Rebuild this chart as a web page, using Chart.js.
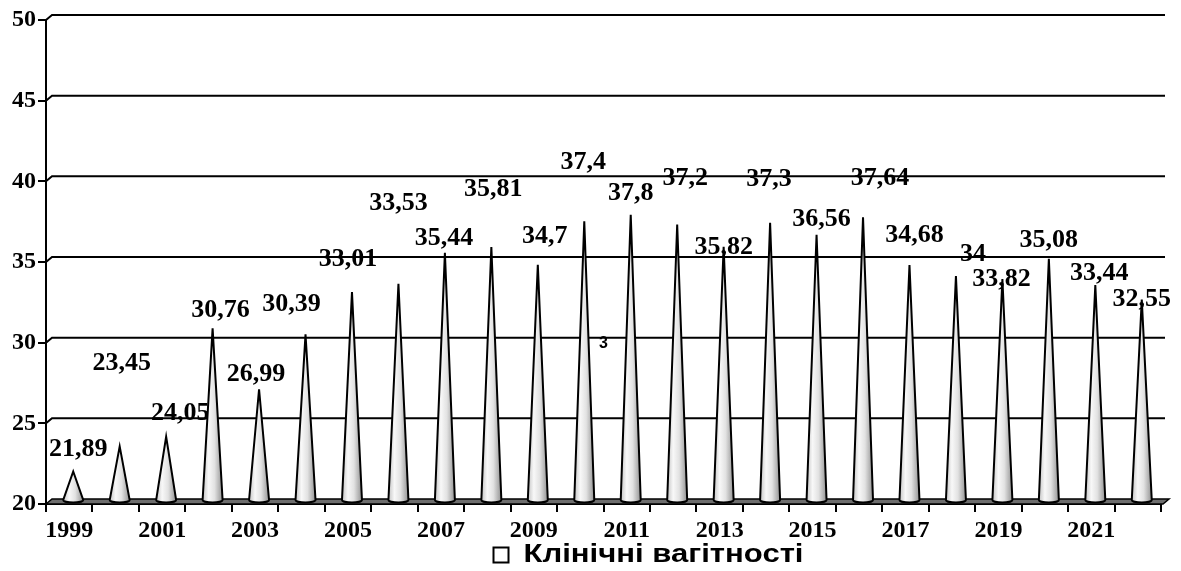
<!DOCTYPE html>
<html>
<head>
<meta charset="utf-8">
<script src="https://cdn.jsdelivr.net/npm/chart.js@4"></script>
<style>
html,body{margin:0;padding:0;background:#fff;}
#wrap{width:1181px;height:571px;}
</style>
</head>
<body>
<div id="wrap"><canvas id="coneChart" width="1181" height="571"></canvas></div>
<script>
const years = ["1999","2000","2001","2002","2003","2004","2005","2006","2007","2008","2009","2010",
"2011","2012","2013","2014","2015","2016","2017","2018","2019","2020","2021","2022"];

const pregnancies = [21.89, 23.45, 24.05, 30.76, 26.99, 30.39, 33.01, 33.53, 35.44, 35.81, 34.7, 37.4,
37.8, 37.2, 35.82, 37.3, 36.56, 37.64, 34.68, 34, 33.82, 35.08, 33.44, 32.55];

const seriesName = "Клінічні вагітності";

/* label nudges (px) from the cone tip, as placed in the original */
const labelDx = [9, 6, 18, 12, 1, -10, 0, 4, 3, 6, 11, 3, 4, 12, 4, 3, 9, 21, 9, 21, 3, 4, 8, 4];
const labelDy = [-24, -85, -25, -20, -17, -32, -35, -82, -17, -60, -31, -61, -24, -48, -1, -46, -18, -41, -32, -24, -2, -20, -14, -2];

const serif = "'Liberation Serif','Times New Roman',serif";
const sans = "'Liberation Sans',Arial,sans-serif";

const ctx = document.getElementById("coneChart").getContext("2d");

/* back wall gridlines + floor, shifted like a 3D chart */
const wallPlugin = {
id:"wall3d",
beforeDatasetsDraw(chart){
const c = chart.ctx;
const y = chart.scales.y;
const area = chart.chartArea;
const dx = 6, dy = -5;
c.save();
c.strokeStyle = "#000";
c.lineWidth = 2;
y.ticks.forEach(t => {
if(t.value <= y.min) return;
const py = y.getPixelForValue(t.value);
c.beginPath();
c.moveTo(area.left, py);
c.lineTo(area.left + dx, py + dy);
c.lineTo(area.right + 4, py + dy);
c.stroke();
});
/* floor */
const fy = y.getPixelForValue(y.min);
c.beginPath();
c.moveTo(area.left, fy);
c.lineTo(area.left + dx, fy + dy);
c.lineTo(area.right + 8, fy + dy);
c.lineTo(area.right + 2, fy);
c.closePath();
c.fillStyle = "#6e6e6e";
c.fill();
c.lineWidth = 1.5;
c.stroke();
c.restore();
}
};

/* cones drawn on the bar elements */
const conePlugin = {
id:"cones",
afterDatasetsDraw(chart){
const c = chart.ctx;
const meta = chart.getDatasetMeta(0);
c.save();
meta.data.forEach((bar, i) => {
const x = bar.x + 4;
const top = bar.y - 2;
const base = bar.base - 3;
const hw = bar.width / 2;
const g = c.createLinearGradient(x - hw, 0, x + hw, 0);
g.addColorStop(0, "#c4c4c4");
g.addColorStop(0.3, "#f8f8f8");
g.addColorStop(0.6, "#e2e2e2");
g.addColorStop(1, "#929292");
c.beginPath();
c.moveTo(x, top);
c.lineTo(x + hw, base);
c.ellipse(x, base, hw, 2.5, 0, 0, Math.PI, false);
c.closePath();
c.fillStyle = g;
c.fill();
c.strokeStyle = "#000";
c.lineWidth = 2;
c.stroke();

/* value label */
c.fillStyle = "#000";
c.font = "bold 26px " + serif;
c.textAlign = "center";
c.textBaseline = "middle";
const txt = String(pregnancies[i]).replace(".", ",");
c.fillText(txt, bar.x + labelDx[i], bar.y + labelDy[i]);
});

/* stray "3" left in the original picture */
const xs = chart.scales.x;
const mx = (xs.getPixelForValue(11) + xs.getPixelForValue(12)) / 2;
c.font = "bold 16px " + sans;
c.textAlign = "center";
c.textBaseline = "middle";
c.fillText("3", mx, chart.scales.y.getPixelForValue(30) + 1);
c.restore();
}
};

/* legend under the axis: square + wide bold caption */
const legendPlugin = {
id:"wideLegend",
afterDraw(chart){
const c = chart.ctx;
const area = chart.chartArea;
c.save();
c.font = "bold 26px " + sans;
const tw = c.measureText(seriesName).width;
const stretch = 280 / tw;
const total = 15 + 15 + 280;
const left = (area.left + area.right) / 2 + 45 - total / 2;
const cy = 555;
c.fillStyle = "#fff";
c.strokeStyle = "#000";
c.lineWidth = 2;
c.fillRect(left, cy - 7.5, 15, 15);
c.strokeRect(left, cy - 7.5, 15, 15);
c.translate(left + 30, cy);
c.scale(stretch, 1);
c.fillStyle = "#000";
c.textAlign = "left";
c.textBaseline = "middle";
c.fillText(seriesName, 0, 0);
c.restore();
}
};

const chart = new Chart(ctx,{

type:"bar",

data:{
labels:years,
datasets:[{
label:seriesName,
data:pregnancies,
base:20,
backgroundColor:"rgba(0,0,0,0)",
borderWidth:0,
categoryPercentage:1,
barPercentage:0.43
}]
},

options:{
responsive:false,
animation:false,
layout:{padding:{top:20, right:20, left:0, bottom:0}},
plugins:{
tooltip:{enabled:false},
legend:{display:false}
},
scales:{
x:{
afterFit(scale){ scale.height = 67; },
grid:{offset:true, drawOnChartArea:false, color:"#000", lineWidth:2, tickLength:8},
border:{color:"#000", width:2},
ticks:{
color:"#000",
autoSkip:false,
maxRotation:0,
padding:4,
font:{family:serif, size:24, weight:"bold"},
callback:(v, i) => i % 2 === 0 ? years[i] : ""
}
},
y:{
min:20,
max:50,
afterFit(scale){ scale.width = 46; },
grid:{drawOnChartArea:false, color:"#000", lineWidth:2, tickLength:8},
border:{color:"#000", width:2},
ticks:{
stepSize:5,
color:"#000",
padding:2,
font:{family:serif, size:24, weight:"bold"}
}
}
}
},

plugins:[wallPlugin, conePlugin, legendPlugin]

});
</script>
</body>
</html>
